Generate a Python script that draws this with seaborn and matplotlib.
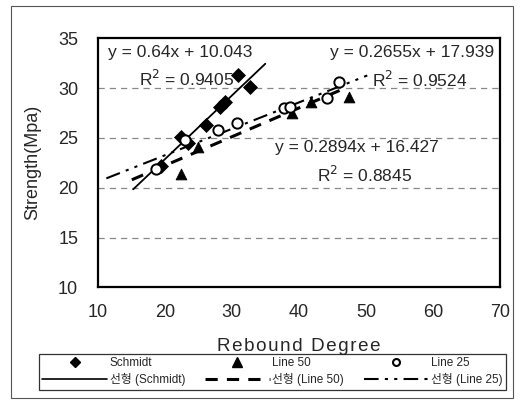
import matplotlib
matplotlib.use("Agg")
import matplotlib.pyplot as plt
import numpy as np
import pandas as pd
import seaborn as sns
from matplotlib.lines import Line2D
from matplotlib.patches import Rectangle

# valori
schmidt_x = [19.4, 22.5, 23.5, 26.1, 28.3, 29.0, 31.0, 32.7]
schmidt_y = [22.2, 25.1, 24.5, 26.3, 28.1, 28.6, 31.3, 30.1]
line50_x = [22.4, 25.0, 39.0, 41.8, 47.5]
line50_y = [21.4, 24.1, 27.5, 28.6, 29.1]
line25_x = [18.7, 23.0, 28.0, 30.8, 37.8, 38.7, 44.2, 46.0]
line25_y = [21.9, 24.8, 25.8, 26.5, 28.0, 28.1, 29.0, 30.6]

# ecuatiile de regresie afisate pe grafic
fit_names = ["Schmidt", "Line 50", "Line 25"]
fit_slope = [0.64, 0.2894, 0.2655]
fit_icpt = [10.043, 16.427, 17.939]
fit_r2 = ["0.9405", "0.8845", "0.9524"]
fit_xmin = [15.3, 15.1, 11.3]
fit_xmax = [35.0, 47.0, 50.2]

sns.set_theme(style="white")
plt.rcParams['font.family'] = ['Liberation Sans', 'Noto Sans CJK KR', 'DejaVu Sans']

fig = plt.figure(figsize=(5.22, 4.03), dpi=100)
ax = fig.add_axes([0.187, 0.287, 0.771, 0.618])

# rama exterioara
fig.patches.append(Rectangle((0.022, 0.012), 0.96, 0.972, transform=fig.transFigure,
                             fill=False, edgecolor='#555555', linewidth=0.8))

for yv in [15, 20, 25, 30]:
    ax.axhline(yv, color='#888888', linestyle=(0, (5, 4)), linewidth=0.9, zorder=0)

df_s = pd.DataFrame({'x': schmidt_x, 'y': schmidt_y})
df_50 = pd.DataFrame({'x': line50_x, 'y': line50_y})
df_25 = pd.DataFrame({'x': line25_x, 'y': line25_y})

sns.scatterplot(data=df_s, x='x', y='y', marker='D', s=50, color='black', edgecolor='black', ax=ax, zorder=3)
sns.scatterplot(data=df_50, x='x', y='y', marker='^', s=60, color='black', edgecolor='black', ax=ax, zorder=3)
sns.scatterplot(data=df_25, x='x', y='y', marker='o', s=55, facecolor='white', edgecolor='black',
                linewidth=1.4, ax=ax, zorder=4)

styles = ['-', (0, (4, 3)), (0, (7, 3, 1.5, 3, 1.5, 3))]
widths = [1.3, 2.2, 1.5]
for i in range(3):
    xs = np.array([fit_xmin[i], fit_xmax[i]])
    ys = fit_slope[i] * xs + fit_icpt[i]
    sns.lineplot(x=xs, y=ys, color='black', linestyle=styles[i], linewidth=widths[i], ax=ax, zorder=2)

fs = 12.5
ax.text(11.5, 33.6, "y = 0.64x + 10.043", fontsize=fs, va='center')
ax.text(16.2, 30.9, "R$^2$ = 0.9405", fontsize=fs, va='center')
ax.text(44.7, 33.6, "y = 0.2655x + 17.939", fontsize=fs, va='center', clip_on=False)
ax.text(50.9, 30.8, "R$^2$ = 0.9524", fontsize=fs, va='center')
ax.text(36.5, 24.0, "y = 0.2894x + 16.427", fontsize=fs, va='center')
ax.text(42.7, 21.3, "R$^2$ = 0.8845", fontsize=fs, va='center')

ax.set_xlim(10, 70)
ax.set_ylim(10, 35)
ax.set_xticks(range(10, 71, 10))
ax.set_yticks(range(10, 36, 5))
ax.tick_params(axis='x', direction='in', length=3, labelsize=13, pad=12)
ax.tick_params(axis='y', length=0, labelsize=13, pad=14)
ax.set_xlabel("\u200a".join("Rebound Degree"), fontsize=13.5, labelpad=12)
ax.set_ylabel("Strength(Mpa)", fontsize=13, labelpad=12)
for sp in ax.spines.values():
    sp.set_color('black')
    sp.set_linewidth(1.6)

h = [Line2D([], [], marker='D', color='black', linestyle='none', markersize=5),
     Line2D([], [], color='black', linestyle=styles[0], linewidth=1.2),
     Line2D([], [], marker='^', color='black', linestyle='none', markersize=7),
     Line2D([], [], color='black', linestyle=styles[1], linewidth=2.2),
     Line2D([], [], marker='o', markerfacecolor='white', markeredgecolor='black',
            markeredgewidth=1.5, linestyle='none', markersize=5),
     Line2D([], [], color='black', linestyle=styles[2], linewidth=1.5)]
labels = ["Schmidt", "선형 (Schmidt)", "Line 50", "선형 (Line 50)", "Line 25", "선형 (Line 25)"]
leg = fig.legend(h, labels, ncol=3, loc='lower left', bbox_to_anchor=(0.063, 0.018, 0.918, 0.115),
                 mode='expand', fontsize=8.5, handlelength=5.5, handletextpad=0.2,
                 borderpad=0.3, labelspacing=0.35, columnspacing=0.5, frameon=True, fancybox=False)
leg.get_frame().set_edgecolor('black')
leg.get_frame().set_linewidth(0.9)

fig.savefig("out.png", dpi=100)
